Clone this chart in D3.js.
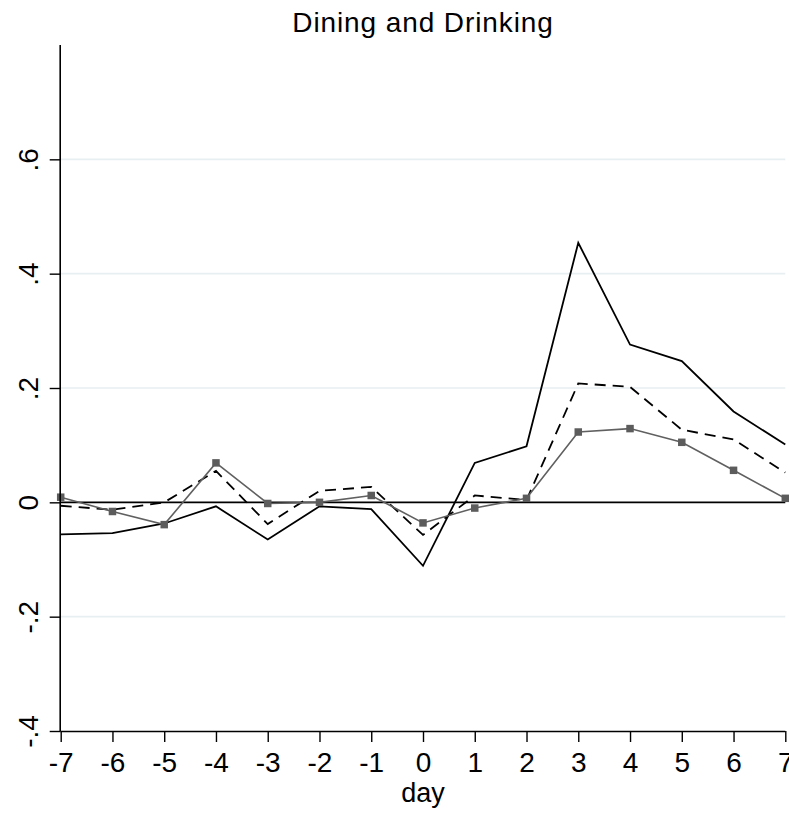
<!DOCTYPE html>
<html>
<head>
<meta charset="utf-8">
<script src="https://cdn.jsdelivr.net/npm/d3@7"></script>
<style>
  html, body { margin: 0; padding: 0; background: #fff; }
  svg { display: block; font-family: "Liberation Sans", Arial, Helvetica, sans-serif; }
</style>
</head>
<body>
<svg id="chart" width="789" height="813"></svg>
<script>
// Event-study coefficients, days relative to the event
const days = [-7, -6, -5, -4, -3, -2, -1, 0, 1, 2, 3, 4, 5, 6, 7];
const solidSeries  = [-0.056, -0.054, -0.037, -0.007, -0.065, -0.007, -0.012, -0.111, 0.069, 0.098, 0.454, 0.276, 0.247, 0.159, 0.101];
const dashedSeries = [-0.006, -0.013, 0.000, 0.055, -0.038, 0.020, 0.027, -0.057, 0.012, 0.004, 0.208, 0.202, 0.127, 0.110, 0.052];
const markedSeries = [0.009, -0.016, -0.039, 0.069, -0.002, 0.000, 0.012, -0.036, -0.010, 0.007, 0.123, 0.129, 0.105, 0.056, 0.007];
const xTickLabels = ["-7", "-6", "-5", "-4", "-3", "-2", "-1", "0", "1", "2", "3", "4", "5", "6", "7"];
const yTicks = [-0.4, -0.2, 0, 0.2, 0.4, 0.6];
const yTickLabels = ["-.4", "-.2", "0", ".2", ".4", ".6"];
const titleText = "Dining and Drinking";
const xTitle = "day";

const svg = d3.select("#chart");
const plotLeft = 60.7, plotRight = 785.3, plotTop = 45, plotBottom = 731;

const x = d3.scaleLinear().domain([-7, 7]).range([plotLeft, plotRight]);
const y = d3.scaleLinear().domain([-0.4, 0.8]).range([plotBottom, plotTop]);

// horizontal grid lines
svg.append("g").selectAll("line")
  .data(yTicks.filter(v => v !== 0 && v !== -0.4))
  .join("line")
  .attr("x1", plotLeft).attr("x2", plotRight)
  .attr("y1", d => y(d)).attr("y2", d => y(d))
  .attr("stroke", "#e7eff2").attr("stroke-width", 1.6);

// zero reference line
svg.append("line")
  .attr("x1", plotLeft).attr("x2", plotRight)
  .attr("y1", y(0)).attr("y2", y(0))
  .attr("stroke", "#000").attr("stroke-width", 1.8);

const line = d3.line().x((d, i) => x(days[i])).y(d => y(d));

svg.append("path").datum(solidSeries)
  .attr("d", line).attr("fill", "none")
  .attr("stroke", "#000").attr("stroke-width", 1.8);

svg.append("path").datum(dashedSeries)
  .attr("d", line).attr("fill", "none")
  .attr("stroke", "#000").attr("stroke-width", 1.8)
  .attr("stroke-dasharray", "11,7");

svg.append("path").datum(markedSeries)
  .attr("d", line).attr("fill", "none")
  .attr("stroke", "#606060").attr("stroke-width", 1.6);

const ms = 7.5;
svg.append("g").selectAll("rect")
  .data(markedSeries)
  .join("rect")
  .attr("x", (d, i) => x(days[i]) - ms / 2)
  .attr("y", d => y(d) - ms / 2)
  .attr("width", ms).attr("height", ms)
  .attr("fill", "#5c5c5c");

// x axis
const xAxis = d3.axisBottom(x).tickValues(days)
  .tickFormat((d, i) => xTickLabels[i])
  .tickSize(11).tickPadding(8);
const gx = svg.append("g").attr("transform", `translate(0,${plotBottom})`).call(xAxis);
gx.select(".domain").attr("stroke", "#000").attr("stroke-width", 1.6)
  .attr("d", `M${plotLeft},0.5H${plotRight}`);
gx.selectAll(".tick line").attr("stroke", "#000").attr("stroke-width", 1.4);
gx.selectAll(".tick text")
  .attr("font-size", 28).attr("font-family", "'Liberation Sans', Arial, sans-serif")
  .attr("fill", "#000").attr("dy", null).attr("y", 41);

// y axis
const yAxis = d3.axisLeft(y).tickValues(yTicks)
  .tickFormat((d, i) => yTickLabels[i]).tickSize(11).tickPadding(0);
const gy = svg.append("g").attr("transform", `translate(${plotLeft},0)`).call(yAxis);
gy.select(".domain").attr("stroke", "#000").attr("stroke-width", 1.6)
  .attr("d", `M-0.5,${plotTop}V${plotBottom}`);
gy.selectAll(".tick line").attr("stroke", "#000").attr("stroke-width", 1.4);
gy.selectAll(".tick text")
  .attr("font-size", 28).attr("font-family", "'Liberation Sans', Arial, sans-serif")
  .attr("fill", "#000")
  .attr("x", null).attr("dy", null)
  .attr("text-anchor", "middle")
  .attr("transform", "translate(-23,0) rotate(-90)");

// titles
svg.append("text")
  .attr("x", (plotLeft + plotRight) / 2).attr("y", 32)
  .attr("text-anchor", "middle").attr("font-size", 28)
  .attr("letter-spacing", 0.9)
  .text(titleText);

svg.append("text")
  .attr("x", (plotLeft + plotRight) / 2).attr("y", 802)
  .attr("text-anchor", "middle").attr("font-size", 27)
  .text(xTitle);
</script>
</body>
</html>
